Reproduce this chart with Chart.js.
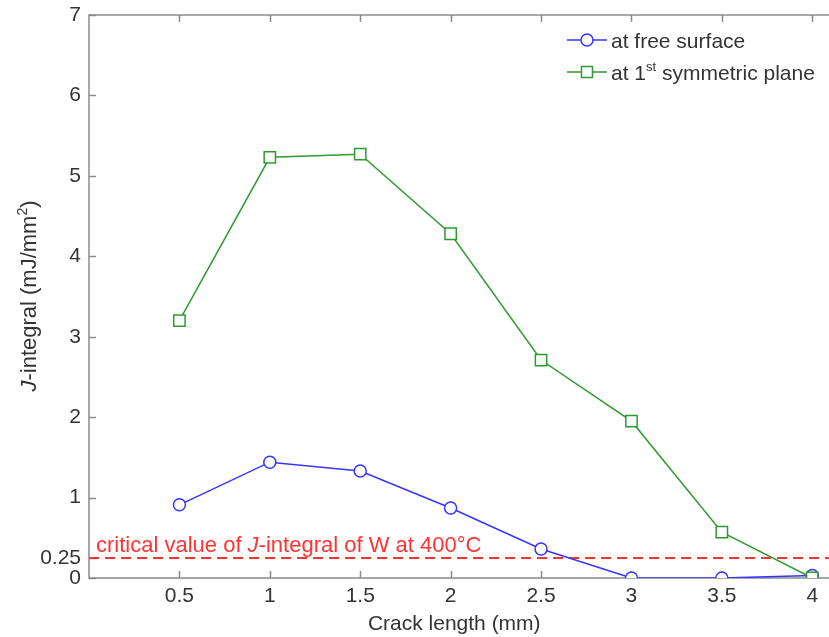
<!DOCTYPE html>
<html>
<head>
<meta charset="utf-8">
<script src="https://cdn.jsdelivr.net/npm/chart.js@4.4.1/dist/chart.umd.min.js"></script>
<style>
  html, body { margin: 0; padding: 0; background: #fff; overflow: hidden; }
  #wrap { width: 829px; height: 637px; }
</style>
</head>
<body>
<div id="wrap"><canvas id="c"></canvas></div>
<script>
// crack length (mm)
var CRACK_LENGTH = [0.5, 1, 1.5, 2, 2.5, 3, 3.5, 4];
// J-integral (mJ/mm^2)
var FREE_SURFACE = [0.91, 1.44, 1.33, 0.87, 0.36, 0, 0, 0.03];
var SYM_PLANE = [3.2, 5.23, 5.27, 4.28, 2.71, 1.95, 0.57, 0];
var CRITICAL_VALUE = 0.25;
var X_TICKS = [0.5, 1, 1.5, 2, 2.5, 3, 3.5, 4];
var Y_TICKS = [0, 0.25, 1, 2, 3, 4, 5, 6, 7];

var FONT = '"Liberation Sans", Arial, sans-serif';
var AXIS_GREY = '#8a8a8a';
var TEXT_GREY = '#333';
var BLUE = '#3535ff';
var GREEN = '#2f9a2f';
var RED = '#ff3333';

function pts(xs, ys) {
  return xs.map(function (x, i) { return { x: x, y: ys[i] }; });
}

// draw a run of text pieces, some italic or superscript
function drawRich(ctx, parts, x, y, size, color) {
  ctx.fillStyle = color;
  ctx.textBaseline = 'alphabetic';
  ctx.textAlign = 'left';
  parts.forEach(function (p) {
    var s = p.sup ? Math.round(size * 0.62) : size;
    ctx.font = (p.italic ? 'italic ' : '') + s + 'px ' + FONT;
    ctx.fillText(p.t, x, p.sup ? y - size * 0.42 : y);
    x += ctx.measureText(p.t).width;
  });
  return x;
}
function richWidth(ctx, parts, size) {
  var w = 0;
  parts.forEach(function (p) {
    var s = p.sup ? Math.round(size * 0.62) : size;
    ctx.font = (p.italic ? 'italic ' : '') + s + 'px ' + FONT;
    w += ctx.measureText(p.t).width;
  });
  return w;
}

function drawMarker(ctx, style, x, y, color) {
  ctx.save();
  ctx.strokeStyle = color;
  ctx.fillStyle = '#fff';
  ctx.lineWidth = 1.5;
  ctx.beginPath();
  if (style === 'circle') ctx.arc(x, y, 6, 0, Math.PI * 2);
  else ctx.rect(x - 5.5, y - 5.5, 11, 11);
  ctx.fill();
  ctx.stroke();
  ctx.restore();
}

var decorPlugin = {
  id: 'decor',
  beforeDatasetsDraw: function (chart) {
    var ctx = chart.ctx, a = chart.chartArea;
    var xs = chart.scales.x, ys = chart.scales.y;
    ctx.save();
    ctx.strokeStyle = AXIS_GREY;
    ctx.lineWidth = 1.5;
    ctx.beginPath();
    ctx.moveTo(829, a.top); ctx.lineTo(a.left, a.top);
    ctx.lineTo(a.left, a.bottom); ctx.lineTo(829, a.bottom);
    ctx.stroke();
    // inward ticks
    ctx.beginPath();
    X_TICKS.forEach(function (v) {
      var px = Math.round(xs.getPixelForValue(v)) + 0.5;
      ctx.moveTo(px, a.bottom); ctx.lineTo(px, a.bottom - 7);
      ctx.moveTo(px, a.top); ctx.lineTo(px, a.top + 7);
    });
    Y_TICKS.forEach(function (v) {
      var py = Math.round(ys.getPixelForValue(v)) + 0.5;
      ctx.moveTo(a.left, py); ctx.lineTo(a.left + 7, py);
    });
    ctx.stroke();
    ctx.restore();
  },
  afterDraw: function (chart) {
    var ctx = chart.ctx, a = chart.chartArea;
    var ys = chart.scales.y;
    ctx.save();
    // critical value label
    var ly = ys.getPixelForValue(CRITICAL_VALUE) - 6;
    drawRich(ctx, [
      { t: 'critical value of ' }, { t: 'J', italic: true },
      { t: '-integral of W at 400°C' }
    ], a.left + 7, ly, 22, RED);

    // y axis title
    var yParts = [{ t: 'J', italic: true }, { t: '-integral (mJ/mm' }, { t: '2', sup: true }, { t: ')' }];
    var w = richWidth(ctx, yParts, 22);
    ctx.translate(36, 296);
    ctx.rotate(-Math.PI / 2);
    drawRich(ctx, yParts, -w / 2, 0, 22, TEXT_GREY);
    ctx.restore();

    // legend
    ctx.save();
    var rows = [
      { color: BLUE, style: 'circle', y: 40, parts: [{ t: 'at free surface' }] },
      { color: GREEN, style: 'rect', y: 72, parts: [{ t: 'at 1' }, { t: 'st', sup: true }, { t: ' symmetric plane' }] }
    ];
    rows.forEach(function (r) {
      ctx.strokeStyle = r.color;
      ctx.lineWidth = 1.5;
      ctx.beginPath();
      ctx.moveTo(567, r.y); ctx.lineTo(607, r.y);
      ctx.stroke();
      drawMarker(ctx, r.style, 587, r.y, r.color);
      drawRich(ctx, r.parts, 611, r.y + 8, 21, TEXT_GREY);
    });
    ctx.restore();
  }
};

function plainLabel(v) { return String(v); }

new Chart(document.getElementById('c'), {
  type: 'line',
  data: {
    datasets: [
      {
        label: 'critical',
        data: [{ x: 0, y: CRITICAL_VALUE }, { x: 4.1, y: CRITICAL_VALUE }],
        borderColor: RED, borderWidth: 2, borderDash: [10, 6],
        pointRadius: 0, fill: false, clip: false, order: 3
      },
      {
        label: 'at free surface',
        data: pts(CRACK_LENGTH, FREE_SURFACE),
        borderColor: BLUE, borderWidth: 1.5, backgroundColor: '#fff',
        pointStyle: 'circle', pointRadius: 6, pointBorderWidth: 1.5,
        pointBackgroundColor: '#fff', pointBorderColor: BLUE, order: 2
      },
      {
        label: 'at 1st symmetric plane',
        data: pts(CRACK_LENGTH, SYM_PLANE),
        borderColor: GREEN, borderWidth: 1.5, backgroundColor: '#fff',
        pointStyle: 'rect', pointRadius: 8, pointBorderWidth: 1.5,
        pointBackgroundColor: '#fff', pointBorderColor: GREEN, order: 1
      }
    ]
  },
  options: {
    responsive: true,
    maintainAspectRatio: false,
    animation: false,
    layout: { padding: { top: 15, right: 0, left: 0, bottom: 0 } },
    plugins: { legend: { display: false }, tooltip: { enabled: false } },
    scales: {
      x: {
        type: 'linear', min: 0, max: 4.04,
        afterBuildTicks: function (axis) { axis.ticks = X_TICKS.map(function (v) { return { value: v }; }); },
        afterFit: function (axis) { axis.height = 59; },
        grid: { display: false, drawTicks: false },
        border: { display: false },
        ticks: { color: TEXT_GREY, padding: 6, maxRotation: 0, autoSkip: false, callback: plainLabel, font: { family: FONT, size: 21 } },
        title: { display: true, text: 'Crack length (mm)', color: TEXT_GREY, padding: { top: 0, bottom: 0 }, font: { family: FONT, size: 21 } }
      },
      y: {
        type: 'linear', min: 0, max: 7,
        afterBuildTicks: function (axis) { axis.ticks = Y_TICKS.map(function (v) { return { value: v }; }); },
        afterFit: function (axis) { axis.width = 89; axis.paddingTop = 0; axis.paddingBottom = 0; },
        grid: { display: false, drawTicks: false },
        border: { display: false },
        ticks: { color: TEXT_GREY, padding: 8, autoSkip: false, callback: plainLabel, font: { family: FONT, size: 21 } }
      }
    }
  },
  plugins: [decorPlugin]
});
</script>
</body>
</html>
